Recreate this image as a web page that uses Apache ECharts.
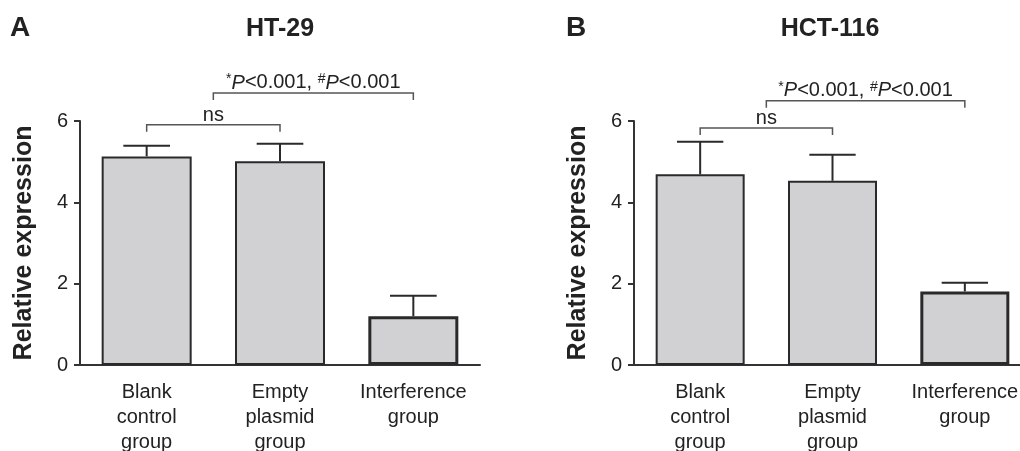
<!DOCTYPE html>
<html>
<head>
<meta charset="utf-8">
<script src="https://cdn.jsdelivr.net/npm/echarts@6/dist/echarts.min.js"></script>
<style>html,body{margin:0;padding:0;background:#fff}#main{width:1020px;height:451px}</style>
</head>
<body>
<div id="main"></div>
<script>
var categories = ['Blank\ncontrol\ngroup', 'Empty\nplasmid\ngroup', 'Interference\ngroup'];
var yMin = 0, yMax = 6, yStep = 2;
var meanA = [5.13, 5.01, 1.20];
var errA = [0.26, 0.43, 0.50];
var meanB = [4.69, 4.53, 1.81];
var errB = [0.80, 0.64, 0.21];
// bracket: from (category pos), to (category pos), height, label
var bracketsA = [[0, 1, 5.91, 'ns'], [0.5, 2, 6.69, 'p']];
var bracketsB = [[0, 1, 5.83, 'ns'], [0.5, 2, 6.5, 'p']];

var FONT = 'Liberation Sans, Arial, Helvetica, sans-serif';
var INK = '#222';

var chart = echarts.init(document.getElementById('main'));

function barData(means) {
    return means.map(function (v, i) {
        return { value: v, itemStyle: { borderWidth: i === 2 ? 3 : 2 } };
    });
}

function errData(means, errs) {
    return means.map(function (v, i) { return [i, v, v + errs[i]]; });
}

function errItem(params, api) {
    var top = api.coord([api.value(0), api.value(2)]);
    var base = api.coord([api.value(0), api.value(1)]);
    var cap = api.size([1, 0])[0] * 0.175;
    return {
        type: 'group',
        children: [
            { type: 'line', shape: { x1: base[0], y1: base[1], x2: top[0], y2: top[1] }, style: { stroke: '#2a2a2a', lineWidth: 2 } },
            { type: 'line', shape: { x1: top[0] - cap, y1: top[1], x2: top[0] + cap, y2: top[1] }, style: { stroke: '#2a2a2a', lineWidth: 2 } }
        ]
    };
}

function bracketRenderer(list) {
    return function (params, api) {
        var br = list[params.dataIndex];
        var band = api.size([1, 0])[0];
        var p0 = api.coord([0, br[2]]);
        var x1 = p0[0] + br[0] * band, x2 = p0[0] + br[1] * band, y = p0[1];
        var txt = br[3] === 'ns' ? 'ns' : '{s|*}{i|P}<0.001, {s|#}{i|P}<0.001';
        return {
            type: 'group',
            children: [
                { type: 'polyline', shape: { points: [[x1, y + 7], [x1, y], [x2, y], [x2, y + 7]] }, style: { stroke: '#555', lineWidth: 1.5, fill: null } },
                { type: 'text', style: {
                    text: txt, x: (x1 + x2) / 2, y: y + 1, align: 'center', verticalAlign: 'bottom',
                    fill: INK, fontSize: 20, fontFamily: FONT,
                    rich: {
                        s: { fontSize: 14, fontFamily: FONT, fill: INK, verticalAlign: 'top', lineHeight: 22 },
                        i: { fontSize: 20, fontFamily: FONT, fill: INK, fontStyle: 'italic' }
                    }
                } }
            ]
        };
    };
}

function xAxisOf(g) {
    return {
        type: 'category', gridIndex: g, data: categories,
        axisLine: { lineStyle: { color: '#333', width: 2 } },
        axisTick: { alignWithLabel: true, length: 7, lineStyle: { color: '#333', width: 2 } },
        axisLabel: { color: INK, fontSize: 20, fontFamily: FONT, lineHeight: 25, margin: 15, interval: 0 }
    };
}

function yAxisOf(g) {
    return {
        type: 'value', gridIndex: g, min: yMin, max: yMax, interval: yStep,
        name: 'Relative expression', nameLocation: 'middle', nameGap: 43,
        nameTextStyle: { color: INK, fontSize: 25, fontWeight: 'bold', fontFamily: FONT },
        axisLine: { show: true, lineStyle: { color: '#333', width: 2 } },
        axisTick: { show: true, length: 6, lineStyle: { color: '#333', width: 2 } },
        axisLabel: { color: INK, fontSize: 20, fontFamily: FONT, margin: 12 },
        splitLine: { show: false }
    };
}

var option = {
    backgroundColor: '#fff',
    animation: false,
    title: [
        { text: 'A', left: 10, top: 14, padding: 0, textStyle: { fontSize: 28, fontWeight: 'bold', color: INK, fontFamily: FONT } },
        { text: 'HT-29', left: 280, top: 17, padding: 0, textAlign: 'center', textStyle: { fontSize: 25, fontWeight: 'bold', color: INK, fontFamily: FONT } },
        { text: 'B', left: 566, top: 14, padding: 0, textStyle: { fontSize: 28, fontWeight: 'bold', color: INK, fontFamily: FONT } },
        { text: 'HCT-116', left: 830, top: 17, padding: 0, textAlign: 'center', textStyle: { fontSize: 25, fontWeight: 'bold', color: INK, fontFamily: FONT } }
    ],
    grid: [
        { left: 80, top: 121, width: 400, height: 244, outerBoundsMode: 'none' },
        { left: 634, top: 121, width: 397, height: 244, outerBoundsMode: 'none' }
    ],
    xAxis: [xAxisOf(0), xAxisOf(1)],
    yAxis: [yAxisOf(0), yAxisOf(1)],
    series: [
        { type: 'bar', xAxisIndex: 0, yAxisIndex: 0, data: barData(meanA), barWidth: 90,
          itemStyle: { color: '#d1d1d3', borderColor: '#2a2a2a' } },
        { type: 'bar', xAxisIndex: 1, yAxisIndex: 1, data: barData(meanB), barWidth: 89,
          itemStyle: { color: '#d1d1d3', borderColor: '#2a2a2a' } },
        { type: 'custom', xAxisIndex: 0, yAxisIndex: 0, data: errData(meanA, errA), renderItem: errItem, clip: false, z: 3 },
        { type: 'custom', xAxisIndex: 1, yAxisIndex: 1, data: errData(meanB, errB), renderItem: errItem, clip: false, z: 3 },
        { type: 'custom', xAxisIndex: 0, yAxisIndex: 0, data: bracketsA.map(function (b) { return [b[0], b[2]]; }), renderItem: bracketRenderer(bracketsA), clip: false },
        { type: 'custom', xAxisIndex: 1, yAxisIndex: 1, data: bracketsB.map(function (b) { return [b[0], b[2]]; }), renderItem: bracketRenderer(bracketsB), clip: false }
    ]
};

chart.setOption(option);
</script>
</body>
</html>
